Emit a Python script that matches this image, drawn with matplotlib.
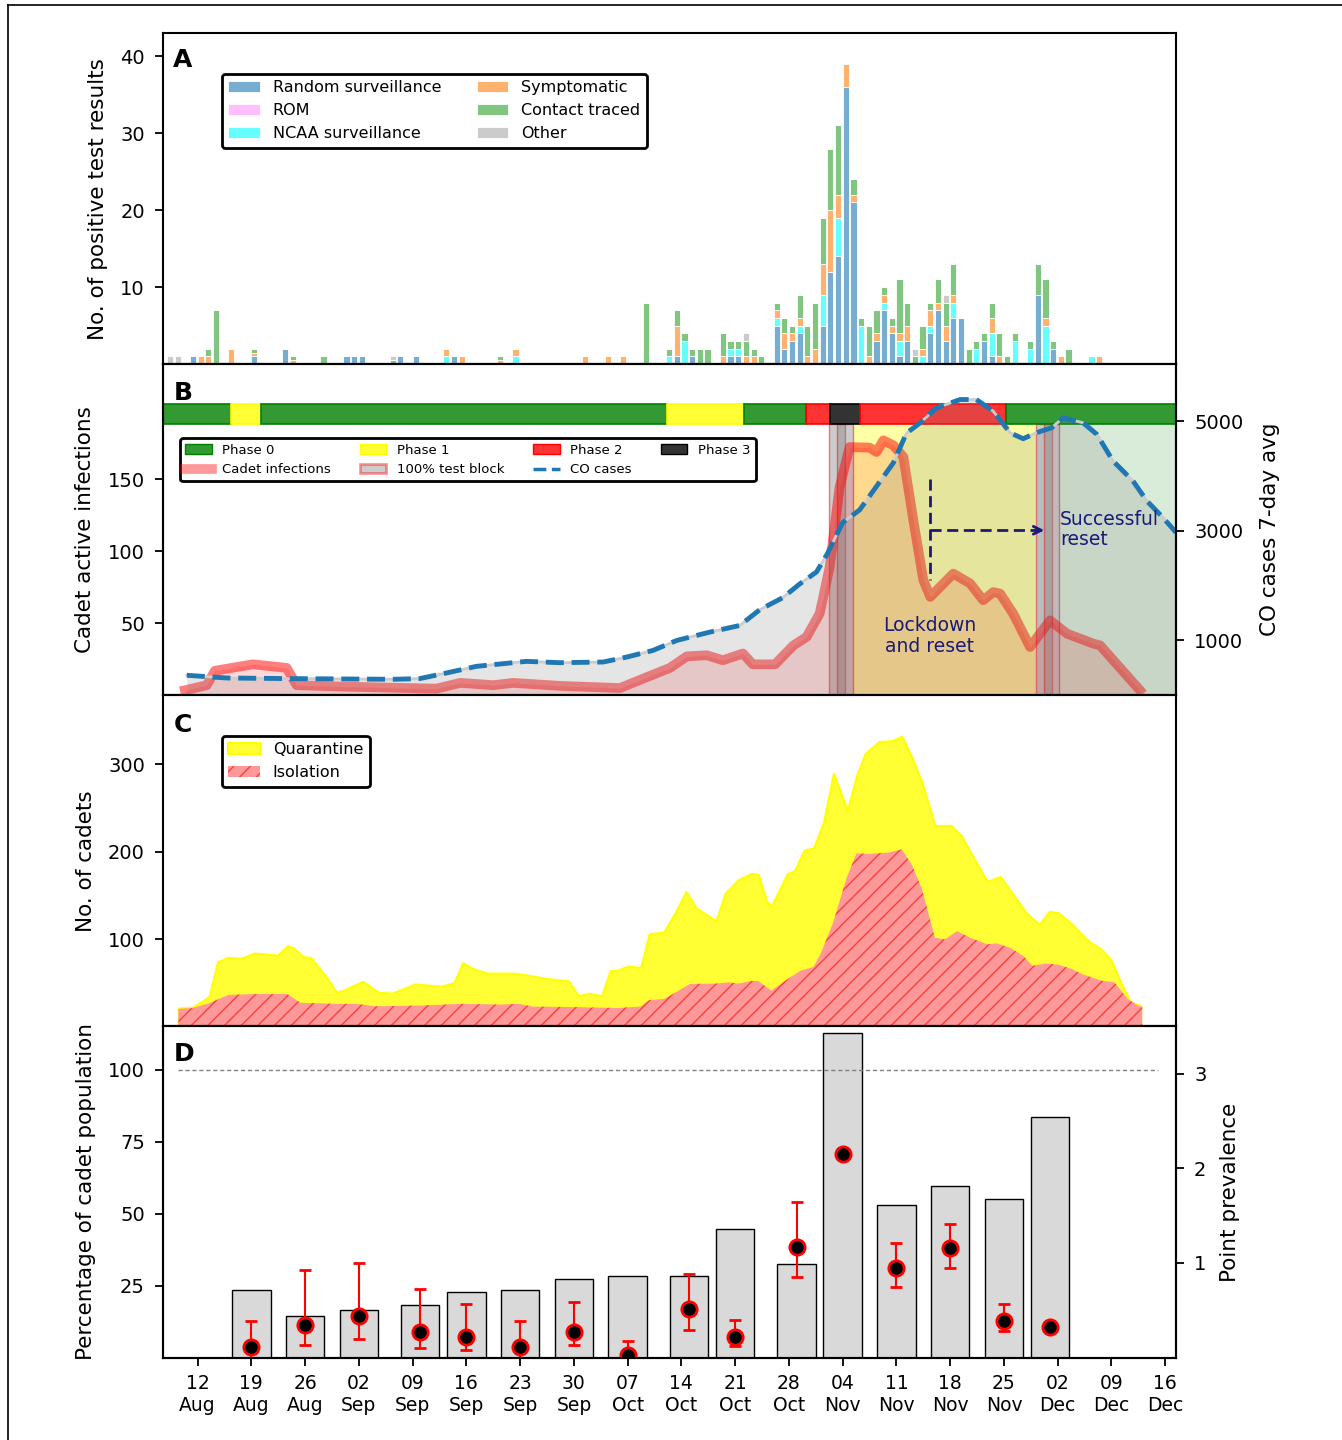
import matplotlib
matplotlib.use('Agg')
import matplotlib.pyplot as plt
from matplotlib.lines import Line2D
from matplotlib.patches import Patch
from matplotlib.colors import to_rgba
import numpy as np

plt.rcParams['font.family'] = 'DejaVu Sans'
plt.rcParams['axes.linewidth'] = 1.5
plt.rcParams['hatch.linewidth'] = 1.0
plt.rcParams['xtick.major.width'] = 1.3
plt.rcParams['ytick.major.width'] = 1.3
plt.rcParams['xtick.major.size'] = 6
plt.rcParams['ytick.major.size'] = 6
plt.rcParams['xtick.major.pad'] = 6
plt.rcParams['ytick.major.pad'] = 7

# x axis = days since 12 Aug
tick_days = list(range(0, 127, 7))
tick_labels = ['12\nAug', '19\nAug', '26\nAug', '02\nSep', '09\nSep', '16\nSep', '23\nSep',
               '30\nSep', '07\nOct', '14\nOct', '21\nOct', '28\nOct', '04\nNov', '11\nNov',
               '18\nNov', '25\nNov', '02\nDec', '09\nDec', '16\nDec']

# ---- A: positive test results per day, by source
a_days = [-4, -3, -1, 0, 1, 2, 4, 7, 11, 12, 16, 19, 20, 21, 25, 26, 28, 32, 33, 34, 39, 41,
          50, 53, 55, 58, 61, 62, 63, 64, 65, 66, 68, 69, 70, 71, 72, 73,
          75, 76, 77, 78, 79, 80, 81, 82, 83, 84, 85, 86, 87, 88, 89, 90, 91, 92, 93, 94, 95,
          96, 97, 98, 99, 100, 101, 102, 103, 104, 105, 106, 108, 109, 110, 111, 112, 113, 116, 117]
random_surv = [0, 0, 1, 0, 0, 0, 0, 1, 2, 0, 0, 1, 1, 1, 0, 1, 1, 0, 1, 0, 0, 0,
               0, 0, 0, 0, 0, 1, 0, 1, 0, 0, 0, 1, 1, 0, 0, 0,
               5, 2, 3, 4, 0, 0, 5, 12, 14, 36, 21, 0, 0, 3, 7, 4, 1, 3, 0, 0, 4,
               7, 3, 6, 6, 0, 0, 3, 1, 0, 0, 0, 0, 9, 0, 2, 0, 0, 0, 0]
rom = [0] * len(a_days)
ncaa = [0, 0, 0, 0, 0, 0, 0, 0, 0, 0, 0, 0, 0, 0, 0, 0, 0, 1, 0, 0, 0, 1,
        0, 0, 0, 0, 1, 0, 3, 0, 0, 0, 0, 1, 1, 0, 0, 0,
        1, 0, 0, 1, 0, 0, 4, 0, 5, 0, 0, 5, 0, 0, 1, 0, 2, 0, 0, 1, 1,
        0, 0, 2, 0, 0, 2, 0, 3, 0, 0, 3, 2, 0, 5, 0, 0, 0, 1, 0]
symptomatic = [0, 0, 0, 1, 1, 0, 2, 0.5, 0, 0.5, 0, 0, 0, 0, 0, 0, 0, 1, 0, 1, 0.5, 1,
               1, 1, 1, 0, 0, 4, 0, 0, 0, 0, 1, 0, 0, 1, 1, 0,
               1, 2, 1, 1, 1, 2, 4, 8, 3, 3, 1, 0, 1, 1, 1, 1, 1, 2, 0, 1, 2,
               1, 2, 1, 0, 0, 0, 0, 2, 1, 0, 0, 0, 0, 1, 0, 1, 0, 0, 1]
contact_traced = [0, 0, 0, 0, 1, 7, 0, 0.5, 0, 0.5, 1, 0, 0, 0, 0.5, 0, 0, 0, 0, 0, 0.5, 0,
                  0, 0, 0, 8, 1, 2, 1, 1, 2, 2, 3, 1, 1, 2, 1, 1,
                  1, 2, 1, 3, 4, 6, 6, 8, 9, 0, 2, 1, 4, 3, 1, 1, 7, 3, 1, 3, 1,
                  3, 3, 4, 0, 2, 1, 1, 2, 3, 1, 1, 1, 4, 5, 1, 0, 2, 0, 0]
other = [1, 1, 0, 0, 0, 0, 0, 0, 0, 0, 0, 0, 0, 0, 0.5, 0, 0, 0, 0, 0, 0, 0,
         0, 0, 0, 0, 0, 0, 0, 0, 0, 0, 0, 0, 0, 1, 0, 0,
         0, 0, 0, 0, 0, 0, 0, 0, 0, 0, 0, 0, 0, 0, 0, 0, 0, 0, 1, 0, 0,
         0, 1, 0, 0, 0, 0, 0, 0, 0, 0, 0, 0, 0, 0, 0, 0, 0, 0, 0]

# ---- B: phases, cadet active infections, CO 7-day average
phase_start = [-4.5, 4.3, 8.3, 61.1, 71.2, 79.2, 82.3, 86.2, 105.2]
phase_end = [4.3, 8.3, 61.1, 71.2, 79.2, 82.3, 86.2, 105.2, 127.4]
phase_id = [0, 1, 0, 1, 0, 2, 3, 2, 0]
test_blocks = [(82.2, 84.3), (83.3, 85.3), (109.2, 111.3), (110.2, 112.2)]
lockdown_span = (85.3, 109.2)
reset_span = (112.2, 127.4)

inf_days = [-1.65, 1.2, 2.25, 7.2, 11.6, 12.9, 19, 27.6, 31.1, 34.2, 38.5, 41.1, 47.2, 55, 58,
            61.5, 63.7, 66.3, 68.4, 71, 72.3, 75.2, 77.6, 79.3, 81, 82.3, 83.6, 84.9, 87.5, 88.4,
            89.3, 90.6, 91.9, 93.2, 94.5, 95.4, 98.4, 100.6, 102.3, 103.6, 104.5, 106.2, 108.4,
            111, 113.2, 116.6, 117.5, 122.7]
inf_vals = [3.5, 7, 17, 21.5, 19, 7, 6, 5, 4.6, 8.6, 7, 8.6, 6.5, 5, 11.5,
            19, 27, 27.8, 24.3, 29, 21.5, 21.5, 34.7, 40.5, 56.7, 89, 144.6, 172.4, 172, 169,
            177, 173.6, 165.5, 121.5, 80, 68.3, 84.5, 77.6, 66, 71.7, 70.6, 56.7, 33.5,
            52, 42.8, 35.9, 34.7, 3.5]

co_days = [-1.4, 3.8, 12.4, 25.5, 28.9, 32, 36.3, 42.8, 47.2, 52.8, 55.9, 59.3, 62.4, 66.7,
           70.6, 73.2, 76.2, 78.4, 80.6, 82, 84, 86.2, 90.6, 92.3, 94.1, 96.2, 99.3, 101.4,
           103.6, 105.8, 107.5, 109.2, 111.2, 112.7, 115.3, 117.1, 119.2, 121.8, 123.6, 125.7, 127.4]
co_vals = [364, 315, 303, 291, 303, 394, 527, 618, 594, 606, 697, 818, 1000, 1152,
           1273, 1560, 1780, 2030, 2250, 2580, 3150, 3380, 4240, 4780, 4970, 5242, 5394, 5394,
           5182, 4788, 4679, 4788, 4879, 5061, 4970, 4758, 4273, 3909, 3545, 3242, 2970]

# ---- C: cadets in quarantine / isolation
q_days = [-2.5, -0.65, 1.5, 2.6, 4.0, 5.7, 7.4, 10.4, 11.7, 12.5, 13.8, 14.7, 16.8, 18.1, 18.9,
          21.5, 23.6, 25.3, 28.3, 31.7, 33.4, 34.5, 35.9, 37.7, 41.1, 42.8, 45.3, 48.3, 49.6,
          50.9, 52.6, 53.7, 54.7, 56, 57.7, 58.8, 60.7, 62.3, 63.6, 64.9, 67.5, 68.7, 70.4,
          72.1, 73, 74.1, 74.7, 76.8, 77.7, 79, 80.2, 81.5, 82.8, 84.6, 85.8, 86.9, 88.7, 90.4,
          91.7, 93, 94.3, 96, 98.1, 99.4, 101.1, 102.8, 104.5, 106.2, 107.9, 109.6, 110.9,
          112.1, 113.9, 116, 117.7, 119, 120.2, 121.5, 122.8]
q_total = [21, 22, 34, 74, 79, 78, 84, 81.5, 92, 90, 79.5, 79, 56, 39, 41,
           51.5, 39, 38, 48.5, 46, 50, 73, 66, 61, 61, 59, 55, 52, 35,
           38, 35, 63.6, 64.4, 69, 67.4, 106, 108, 132, 154.5, 135.6, 121, 152.6, 168,
           175, 174, 143, 137.5, 175, 178, 202, 204, 234, 290, 247, 287, 312, 326, 327,
           332, 308, 279.5, 230, 230, 219, 192, 166, 171.6, 150.8, 130, 116.7, 131.8,
           130, 116.7, 97.7, 88.3, 75, 50.3, 27.6, 23.9]
iso_days = [-2.5, -0.65, 1.5, 4, 7.4, 11.7, 13.4, 18.1, 20.6, 23.2, 29.1, 34.3, 39.4, 41.9,
            43.6, 49.6, 54.7, 57.7, 58.8, 60.7, 62.3, 64.1, 67.5, 69.2, 70.4, 72.1, 73, 74.7,
            76.8, 78.5, 80.2, 81.1, 82.8, 84.5, 85.8, 87.5, 90, 91.7, 93, 94.3, 96, 97.3, 98.9,
            100.6, 102.8, 104.1, 105.8, 107.5, 108.7, 110.5, 112.1, 113.9, 115.1, 117.7, 119.4,
            121.1, 122.4, 123]
iso_vals = [20, 21, 26.5, 36, 37, 37, 27, 25.8, 25.8, 23, 23.9, 25.8, 25, 25.8,
            22.7, 22, 21, 22.7, 30, 31.4, 39, 48.5, 49, 50.4, 49, 52, 52, 41,
            54, 63.6, 68, 82.6, 120, 169.7, 198, 197.4, 199, 202.6, 185, 158, 101.5, 99.6, 109,
            101.5, 94, 95, 90, 80.7, 69.3, 72, 70.5, 65.5, 60, 52.3, 50.4,
            31.5, 24, 22]

# ---- D: weekly testing coverage and point prevalence
week_days = [7, 14, 21, 29, 35, 42, 49, 56, 64, 70, 78, 84, 91, 98, 105, 111]
pct_tested = [23.5, 14.5, 16.6, 18.3, 22.6, 23.3, 27.1, 28.2, 28.4, 44.6, 32.4, 112.8,
              53, 59.7, 55, 83.6]
prevalence = [0.11, 0.34, 0.44, 0.27, 0.22, 0.11, 0.27, 0.03, 0.51, 0.22, 1.17, 2.15,
              0.95, 1.16, 0.39, 0.32]
prev_low = [0.0, 0.13, 0.2, 0.1, 0.08, 0.0, 0.13, 0.0, 0.29, 0.12, 0.85, 2.13,
            0.74, 0.95, 0.28, 0.30]
prev_high = [0.39, 0.93, 1.0, 0.72, 0.57, 0.39, 0.59, 0.17, 0.88, 0.40, 1.64, 2.17,
             1.21, 1.41, 0.57, 0.34]

fig, axes = plt.subplots(4, 1, sharex=True, figsize=(13.42, 14.4), dpi=100)
fig.subplots_adjust(left=163 / 1342, right=1176 / 1342, bottom=1 - 1357.5 / 1440,
                    top=1 - 33 / 1440, hspace=0)
ax_a, ax_b, ax_c, ax_d = axes
letter_kw = dict(fontsize=18, fontweight='bold', ha='left', va='top')
ylab_kw = dict(fontsize=15.5, labelpad=9)

# ---------------- panel A
x_a = np.array(a_days) + 0.4
bottom = np.zeros(len(a_days))
stack = [(random_surv, 'tab:blue', 0.6, 'Random surveillance'),
         (rom, 'magenta', 0.25, 'ROM'),
         (ncaa, 'cyan', 0.6, 'NCAA surveillance'),
         (symptomatic, 'tab:orange', 0.6, 'Symptomatic'),
         (contact_traced, 'tab:green', 0.6, 'Contact traced'),
         (other, 'tab:gray', 0.4, 'Other')]
for vals, col, alpha, lab in stack:
    vals = np.array(vals, dtype=float)
    ax_a.bar(x_a, vals, width=0.8, bottom=bottom, color=to_rgba(col, alpha),
             edgecolor='white', linewidth=0.6, label=lab)
    bottom += vals
ax_a.set_ylim(0, 43)
ax_a.set_yticks([10, 20, 30, 40])
ax_a.set_ylabel('No. of positive test results', **ylab_kw)
leg = ax_a.legend(ncol=2, loc='upper left', bbox_to_anchor=(0.058, 0.876), borderaxespad=0,
                  fontsize=11.5, framealpha=1, edgecolor='black', columnspacing=2.2)
leg.get_frame().set_linewidth(2)
ax_a.text(0.01, 0.955, 'A', transform=ax_a.transAxes, **letter_kw)

# ---------------- panel B
phase_cols = ['green', 'yellow', 'red', 'black']
bar_lo, bar_hi = 188.5, 202.4
ax_b.fill_between(lockdown_span, 0, bar_lo, color='yellow', alpha=0.35, lw=0, zorder=0)
ax_b.fill_between(reset_span, 0, bar_lo, color='green', alpha=0.15, lw=0, zorder=0)
for s, e in test_blocks:
    ax_b.fill_between([s, e], 0, bar_lo, facecolor=to_rgba('grey', 0.4),
                      edgecolor=to_rgba('red', 0.5), lw=1, zorder=1)
for s, e, p in zip(phase_start, phase_end, phase_id):
    ax_b.bar(s, bar_hi - bar_lo, width=e - s, bottom=bar_lo, align='edge',
             facecolor=to_rgba(phase_cols[p], 0.8), edgecolor=phase_cols[p], lw=1.2, zorder=2)
ax_b.fill_between(inf_days, 0, inf_vals, color='red', alpha=0.15, lw=0, zorder=2)
ax_b.plot(inf_days, inf_vals, color='red', alpha=0.5, lw=7, zorder=3)
ax_b.set_ylim(0, 230)
ax_b.set_yticks([50, 100, 150])
ax_b.set_ylabel('Cadet active infections', **ylab_kw)

ax_b2 = ax_b.twinx()
ax_b2.fill_between(co_days, 0, co_vals, color='grey', alpha=0.2, lw=0)
ax_b2.plot(co_days, co_vals, color='#cccccc', lw=2)
ax_b2.plot(co_days, co_vals, color='tab:blue', ls='--', lw=3.5)
ax_b2.set_ylim(0, 6040)
ax_b2.set_yticks([1000, 3000, 5000])
ax_b2.set_ylabel('CO cases 7-day avg', fontsize=15.5, labelpad=12)
ax_b2.tick_params(labelsize=14)

note_col = '#1a1a78'
tb = ax_b.transData
ax_b2.plot([95.4, 95.4], [150, 80], transform=tb, color=note_col, ls=(0, (4, 2)), lw=2)
ax_b2.plot([95.4, 110.0], [114.6, 114.6], transform=tb, color=note_col, ls=(0, (4, 2)), lw=2)
ax_b2.annotate('', xy=(110.6, 114.6), xytext=(109.3, 114.6), xycoords=tb, textcoords=tb,
               arrowprops=dict(arrowstyle='->', color=note_col, lw=2, mutation_scale=14))
ax_b2.text(95.3, 41, 'Lockdown\nand reset', transform=tb, ha='center', va='center',
           fontsize=13.5, color=note_col, linespacing=1.1)
ax_b2.text(112.3, 115, 'Successful\nreset', transform=tb, ha='left', va='center',
           fontsize=13.5, color=note_col, linespacing=1.1)

b_handles = [Patch(facecolor=to_rgba('green', 0.8), edgecolor='green'),
             Line2D([0], [0], color='red', alpha=0.4, lw=7),
             Patch(facecolor=to_rgba('yellow', 0.8), edgecolor='yellow'),
             Patch(facecolor=to_rgba('grey', 0.4), edgecolor=to_rgba('red', 0.4), lw=2),
             Patch(facecolor=to_rgba('red', 0.8), edgecolor='red'),
             Line2D([0], [0], color='tab:blue', ls='--', lw=2.5),
             Patch(facecolor=to_rgba('black', 0.8), edgecolor='black')]
b_labels = ['Phase 0', 'Cadet infections', 'Phase 1', '100% test block', 'Phase 2',
            'CO cases', 'Phase 3']
leg = ax_b2.legend(b_handles, b_labels, ncol=4, loc='upper left', bbox_to_anchor=(0.0168, 0.776),
                   borderaxespad=0, fontsize=9.5, framealpha=1, edgecolor='black',
                   columnspacing=2.2)
leg.get_frame().set_linewidth(2)
ax_b.text(0.011, 0.949, 'B', transform=ax_b.transAxes, **letter_kw)

# ---------------- panel C
ax_c.fill_between(q_days, 0, q_total, facecolor=to_rgba('yellow', 0.8), edgecolor='yellow',
                  lw=1.5, label='Quarantine')
ax_c.fill_between(iso_days, 0, iso_vals, facecolor='#ff9999',
                  edgecolor=to_rgba('red', 0.6), hatch='//', lw=0, label='Isolation')
ax_c.set_ylim(0, 379)
ax_c.set_yticks([100, 200, 300])
ax_c.set_ylabel('No. of cadets', **ylab_kw)
leg = ax_c.legend(loc='upper left', bbox_to_anchor=(0.058, 0.877), borderaxespad=0,
                  fontsize=11.5, framealpha=1, edgecolor='black')
leg.get_frame().set_linewidth(2)
ax_c.text(0.011, 0.947, 'C', transform=ax_c.transAxes, **letter_kw)

# ---------------- panel D
ax_d.bar(week_days, pct_tested, width=5, color='#d9d9d9', edgecolor='black', lw=1)
ax_d.hlines(100, -2.6, 125, colors='grey', linestyles=(0, (3, 2)), lw=1)
ax_d.set_ylim(0, 115)
ax_d.set_yticks([25, 50, 75, 100])
ax_d.set_ylabel('Percentage of cadet population', **ylab_kw)
ax_d2 = ax_d.twinx()
yerr = [np.array(prevalence) - np.array(prev_low), np.array(prev_high) - np.array(prevalence)]
ax_d2.errorbar(week_days, prevalence, yerr=yerr, fmt='o', color='black', mfc='black',
               mec='red', mew=2, ms=11, ecolor='red', elinewidth=1.5, capsize=4, capthick=2)
ax_d2.set_ylim(0, 3.5)
ax_d2.set_yticks([1, 2, 3])
ax_d2.set_ylabel('Point prevalence', fontsize=15.5, labelpad=10)
ax_d2.tick_params(labelsize=14)
ax_d.text(0.011, 0.953, 'D', transform=ax_d.transAxes, **letter_kw)

ax_d.set_xlim(-4.5, 127.4)
ax_d.set_xticks(tick_days)
ax_d.set_xticklabels(tick_labels, fontsize=13.5)
for ax in axes:
    ax.tick_params(axis='y', labelsize=14)

fig.add_artist(Line2D([8 / 1342, 8 / 1342], [0, 1 - 5 / 1440], color='black', lw=1.2))
fig.add_artist(Line2D([8 / 1342, 1], [1 - 5 / 1440, 1 - 5 / 1440], color='black', lw=1.2))

fig.savefig('out.png', dpi=100)
